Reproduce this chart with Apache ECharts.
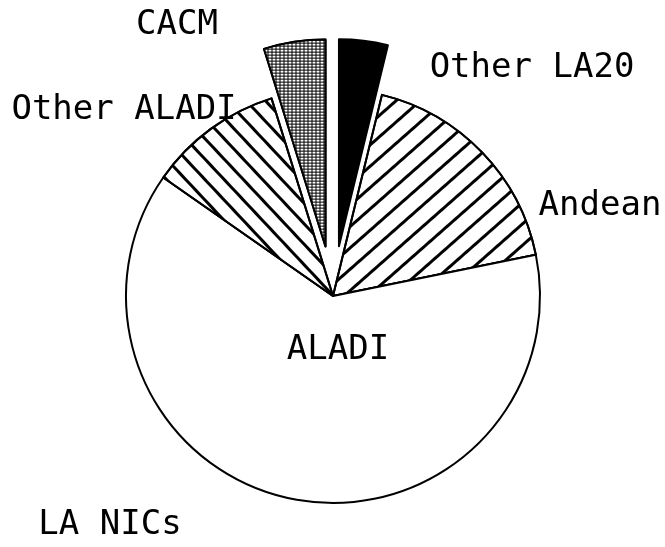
<!DOCTYPE html>
<html><head><meta charset="utf-8">
<script src="https://cdn.jsdelivr.net/npm/echarts@6/dist/echarts.min.js"></script>
<style>html,body{margin:0;padding:0;background:#fff}#c{width:665px;height:547px}</style>
</head><body><div id="c"></div>
<script>
// Data (clockwise from 12 o'clock)
const categories = ['Other LA20', 'Andean', 'LA NICs', 'Other ALADI', 'CACM'];
const shares = [3.8, 18.0, 62.9, 10.5, 4.8];
const exploded = [true, false, false, false, true];
const groupLabel = 'ALADI';

// Styles
const FONT = 'DejaVu Sans Mono';
const fills = ['#000', '#fff', '#fff', '#fff', '#000'];
const decals = [
  null,
  { symbol: 'rect', symbolSize: 1, color: '#000', dashArrayX: [1, 0], dashArrayY: [2.5, 12.5], rotation: -Math.PI * 0.23 },
  null,
  { symbol: 'rect', symbolSize: 1, color: '#000', dashArrayX: [1, 0], dashArrayY: [2.5, 10.5], rotation: Math.PI * 0.26 },
  { symbol: 'rect', symbolSize: 1, color: '#fff', dashArrayX: [3, 1], dashArrayY: [2, 1], rotation: 0 }
];
const labelPos = [[532, 68], [600, 206], [110, 525], [124, 110], [177, 25]];
const groupLabelPos = [338, 350];

function textEl(text, pos) {
  return {
    type: 'text', x: pos[0], y: pos[1], z: 100, silent: true,
    style: { text: text, fill: '#000', font: '34px "' + FONT + '"', align: 'center', verticalAlign: 'middle' }
  };
}

const chart = echarts.init(document.getElementById('c'), null, { renderer: 'canvas' });
chart.setOption({
  backgroundColor: '#fff',
  animation: false,
  graphic: categories.map((c, i) => textEl(c, labelPos[i])).concat([textEl(groupLabel, groupLabelPos)]),
  series: [{
    type: 'pie',
    center: [333, 296],
    radius: 207,
    startAngle: 90,
    clockwise: true,
    sort: null,
    selectedMode: 'multiple',
    selectedOffset: 50,
    emphasis: { disabled: true },
    itemStyle: { borderColor: '#000', borderWidth: 2 },
    label: { show: false },
    labelLine: { show: false },
    data: categories.map((name, i) => ({
      name: name,
      value: shares[i],
      selected: exploded[i],
      itemStyle: Object.assign({ color: fills[i] }, decals[i] ? { decal: decals[i] } : {})
    }))
  }]
});
</script></body></html>
